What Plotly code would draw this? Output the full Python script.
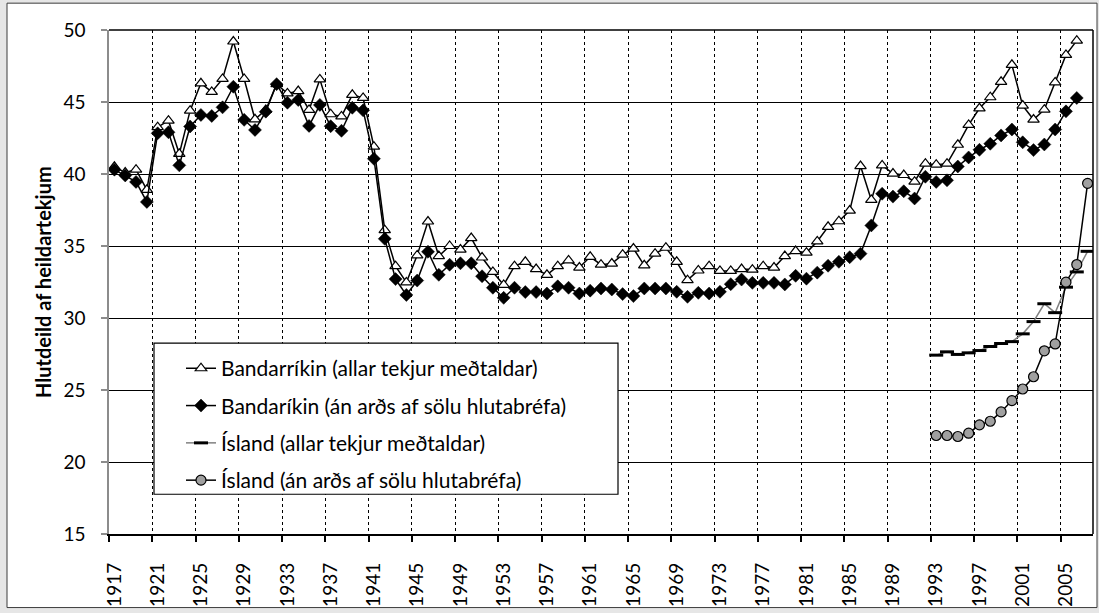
import plotly.graph_objects as go

# ---------------- data ----------------
years_us = list(range(1917, 2007))
us_all = [40.5, 40.1, 40.3, 38.9, 43.25, 43.7, 41.4, 44.4, 46.3, 45.7,
          46.6, 49.2, 46.6, 43.8, 44.45, 46.24, 45.6, 45.76, 44.45, 46.57,
          44.15, 44.0, 45.5, 45.28, 41.9, 36.1, 33.6, 32.47, 34.35, 36.7,
          34.3, 35.0, 34.75, 35.55, 34.2, 33.2, 32.3, 33.6, 33.9, 33.4,
          33.0, 33.6, 34.0, 33.5, 34.25, 33.7, 33.78, 34.4, 34.82, 33.66,
          34.47, 34.88, 33.9, 32.63, 33.3, 33.6, 33.27, 33.27, 33.4, 33.36,
          33.6, 33.5, 34.3, 34.65, 34.54, 35.32, 36.33, 36.72, 37.46, 40.55,
          38.2, 40.6, 40.03, 39.93, 39.47, 40.72, 40.65, 40.72, 42.03, 43.41,
          44.56, 45.33, 46.4, 47.58, 44.75, 43.78, 44.47, 46.36, 48.27, 49.26]
us_excl = [40.3, 39.9, 39.45, 38.06, 42.83, 42.9, 40.6, 43.3, 44.1, 44.03,
           44.63, 46.06, 43.76, 43.06, 44.33, 46.24, 44.95, 45.14, 43.34, 44.8,
           43.32, 43.0, 44.6, 44.42, 41.06, 35.5, 32.7, 31.6, 32.6, 34.6,
           33.0, 33.7, 33.8, 33.8, 32.9, 32.1, 31.4, 32.1, 31.8, 31.8,
           31.7, 32.2, 32.1, 31.7, 31.9, 32.05, 31.98, 31.66, 31.52, 32.05,
           32.05, 32.05, 31.82, 31.47, 31.75, 31.7, 31.82, 32.35, 32.67, 32.44,
           32.44, 32.44, 32.33, 32.93, 32.73, 33.15, 33.63, 33.9, 34.22, 34.47,
           36.43, 38.63, 38.43, 38.8, 38.3, 39.81, 39.45, 39.56, 40.52, 41.15,
           41.68, 42.1, 42.68, 43.09, 42.2, 41.66, 42.05, 43.09, 44.35, 45.28]

years_is = list(range(1993, 2008))
is_all = [27.42, 27.65, 27.47, 27.58, 27.74, 28.02, 28.23, 28.36, 28.9, 29.75,
          30.99, 30.37, 32.14, 33.2, 34.63]
is_excl = [21.84, 21.84, 21.77, 22.0, 22.58, 22.83, 23.48, 24.26, 25.07, 25.92,
           27.72, 28.2, 32.49, 33.71, 39.35]

tick_years = list(range(1917, 2006, 4))
tick_labels = [str(y) for y in tick_years]
y_ticks = [15, 20, 25, 30, 35, 40, 45, 50]

names = ["Bandarríkin (allar tekjur meðtaldar)",
         "Bandaríkin (án arðs af sölu hlutabréfa)",
         "Ísland (allar tekjur meðtaldar)",
         "Ísland (án arðs af sölu hlutabréfa)"]

FONT = "Lato"

fig = go.Figure()
fig.add_trace(go.Scatter(
    x=years_us, y=us_all, name=names[0], legendgroup="a", mode="lines+markers",
    line=dict(color="black", width=1.5),
    marker=dict(symbol="triangle-up", size=10, color="white",
                line=dict(color="black", width=1.2))))
fig.add_trace(go.Scatter(
    x=years_us, y=us_excl, name=names[1], legendgroup="b", mode="lines+markers",
    line=dict(color="black", width=1.5),
    marker=dict(symbol="diamond", size=10, color="black",
                line=dict(color="black", width=0.5))))
fig.add_trace(go.Scatter(
    x=years_is, y=is_all, name=names[2], legendgroup="c", mode="lines+markers",
    line=dict(color="#808080", width=1.5),
    marker=dict(symbol="line-ew", size=10, color="black",
                line=dict(color="black", width=3))))
fig.add_trace(go.Scatter(
    x=years_is, y=is_excl, name=names[3], legendgroup="d", mode="lines+markers",
    line=dict(color="black", width=1.5),
    marker=dict(symbol="circle", size=10, color="#a0a0a0",
                line=dict(color="black", width=1.2))))

xr = [1916.5, 2007.5]
fig.update_layout(
    width=1099, height=613,
    margin=dict(l=109, r=6, t=30, b=76),
    paper_bgcolor="#e6e6e6",
    plot_bgcolor="white",
    font=dict(family=FONT, color="black", size=19),
    showlegend=True,
    legend=dict(x=(181 - 109) / 984, y=(537 - 350) / 507,
                xanchor="left", yanchor="top",
                bgcolor="rgba(0,0,0,0)", borderwidth=0,
                font=dict(family=FONT, size=21, color="black"),
                tracegroupgap=7),
    xaxis=dict(range=xr, tickmode="array",
               tickvals=[y - 0.5 for y in tick_years],
               ticktext=["" for _ in tick_years],
               showgrid=True, gridcolor="black", griddash="dot", gridwidth=1,
               ticks="outside", ticklen=6, tickcolor="black", tickwidth=1.5,
               showline=True, linecolor="black", linewidth=2, zeroline=False),
    xaxis2=dict(range=xr, overlaying="x", anchor="y", side="bottom",
                tickmode="array", tickvals=tick_years, ticktext=tick_labels,
                tickangle=-90, ticks="", showgrid=False, showline=False,
                zeroline=False, ticklabelstandoff=24,
                tickfont=dict(family=FONT, size=19, color="black")),
    yaxis=dict(range=[15, 50], tickmode="array", tickvals=y_ticks,
               showgrid=True, gridcolor="black", gridwidth=1.3,
               showline=True, linecolor="#8c8c8c", linewidth=1.5,
               ticks="outside", ticklen=6, tickcolor="#8c8c8c", tickwidth=1.5,
               ticklabelstandoff=12, zeroline=False,
               tickfont=dict(family=FONT, size=19, color="black")),
)

# invisible point on xaxis2 so that its labels are rendered
fig.add_trace(go.Scatter(x=[xr[0]], y=[15], xaxis="x2", mode="markers",
                         marker=dict(opacity=0), showlegend=False,
                         hoverinfo="skip"))

shapes = [
    dict(type="rect", xref="paper", yref="paper",
         x0=(7 - 109) / 984, x1=(1097 - 109) / 984,
         y0=(537 - 611) / 507, y1=(537 - 3) / 507,
         fillcolor="white", line=dict(color="#3c3c3c", width=1), layer="below"),
    dict(type="line", xref="paper", yref="paper", x0=1, x1=1, y0=0, y1=1,
         line=dict(color="black", width=1.5), layer="above"),
    dict(type="line", xref="paper", yref="paper", x0=0, x1=1, y0=1, y1=1,
         line=dict(color="black", width=1.5), layer="above"),
    dict(type="rect", xref="paper", yref="paper",
         x0=(154 - 109) / 984, x1=(618 - 109) / 984,
         y0=(537 - 497) / 507, y1=(537 - 345) / 507,
         fillcolor="white", line=dict(color="black", width=1.2), layer="above"),
]
fig.update_layout(shapes=shapes)

fig.add_annotation(text="<b>Hlutdeild af heildartekjum</b>", xref="paper", yref="paper",
                   x=(43 - 109) / 984, y=0.5, textangle=-90, showarrow=False,
                   xanchor="center", yanchor="middle",
                   font=dict(family=FONT, size=20, color="black"))

fig.write_html("out.html",
               config={"displayModeBar": False},
               post_script="document.body.style.margin='0';"
                           "document.body.style.overflow='hidden';")
